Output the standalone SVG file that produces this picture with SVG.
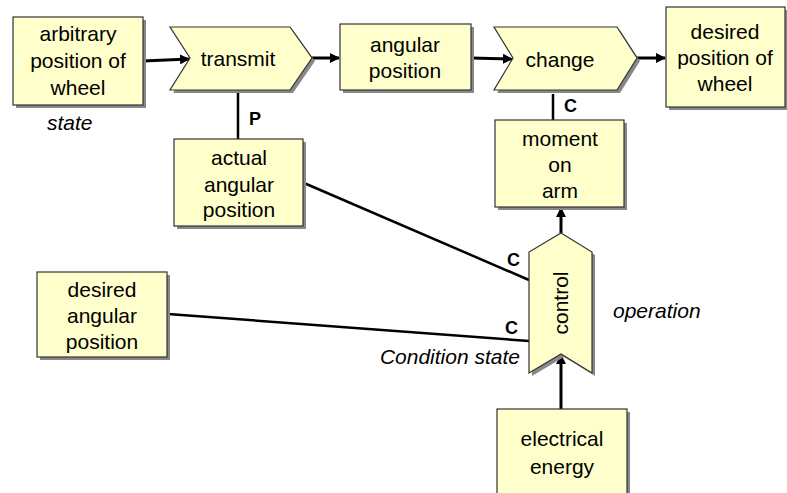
<svg xmlns="http://www.w3.org/2000/svg" width="787" height="493" viewBox="0 0 787 493">
<defs>
<style>
.shape{fill:#FFFFCC;stroke:#333;stroke-width:1.2}
.shadow{fill:#888;stroke:none}
.t{font-family:"Liberation Sans",Arial,sans-serif;font-size:21px;fill:#000;text-anchor:middle}
.it{font-family:"Liberation Sans",Arial,sans-serif;font-size:21px;font-style:italic;fill:#000}
.lbl{font-family:"Liberation Sans",Arial,sans-serif;font-size:18px;font-weight:bold;fill:#000}
.conn{stroke:#000;stroke-width:3;fill:none}
.thin{stroke:#000;stroke-width:2.5;fill:none}
</style>
<marker id="ah" markerWidth="10" markerHeight="10" refX="9" refY="5" orient="auto" markerUnits="userSpaceOnUse">
<path d="M0,0 L10,5 L0,10 z" fill="#000"/>
</marker>
</defs>

<g id="connectors">
<line class="conn" x1="143" y1="61" x2="189" y2="59" marker-end="url(#ah)"/>
<line class="conn" x1="312" y1="58" x2="339" y2="58" marker-end="url(#ah)"/>
<line class="conn" x1="471" y1="58" x2="512" y2="59" marker-end="url(#ah)"/>
<line class="conn" x1="637" y1="58" x2="665" y2="58" marker-end="url(#ah)"/>
<line class="thin" x1="238" y1="92" x2="238" y2="139"/>
<line class="thin" x1="553" y1="94" x2="553" y2="120"/>
<line class="conn" x1="561" y1="233" x2="561" y2="208" marker-end="url(#ah)"/>
<line class="conn" x1="561" y1="409" x2="561" y2="355" marker-end="url(#ah)"/>
<line class="thin" x1="304" y1="183" x2="529" y2="280"/>
<line class="thin" x1="168" y1="314" x2="529" y2="341"/>
<text class="lbl" x="249" y="125">P</text>
<text class="lbl" x="564" y="112">C</text>
<text class="lbl" x="507" y="266">C</text>
<text class="lbl" x="505" y="334">C</text>
</g>

<g id="arbitrary-position">
<rect class="shadow" x="16" y="20" width="130" height="88"/>
<rect class="shape" x="13" y="17" width="130" height="88"/>
<text class="t" x="78" y="41">arbitrary</text>
<text class="t" x="78" y="68">position of</text>
<text class="t" x="78" y="95">wheel</text>
</g>
<text class="it" x="47" y="130">state</text>

<g id="transmit">
<polygon class="shadow" points="173,30 293,30 315,61 293,93 173,93 193,61"/>
<polygon class="shape" points="170,27 290,27 312,58 290,90 170,90 190,58"/>
<text class="t" x="238" y="66">transmit</text>
</g>

<g id="angular-position">
<rect class="shadow" x="343" y="27" width="131" height="66"/>
<rect class="shape" x="340" y="24" width="131" height="66"/>
<text class="t" x="405" y="52">angular</text>
<text class="t" x="405" y="78">position</text>
</g>

<g id="change">
<polygon class="shadow" points="497,30 620,30 640,61 620,93 497,93 516,61"/>
<polygon class="shape" points="494,27 617,27 637,58 617,90 494,90 513,58"/>
<text class="t" x="560" y="67">change</text>
</g>

<g id="desired-position">
<rect class="shadow" x="669" y="10" width="120" height="100"/>
<rect class="shape" x="666" y="7" width="119" height="100"/>
<text class="t" x="725" y="39">desired</text>
<text class="t" x="725" y="65">position of</text>
<text class="t" x="725" y="91">wheel</text>
</g>

<g id="actual-angular-position">
<rect class="shadow" x="177" y="142" width="129" height="87"/>
<rect class="shape" x="174" y="139" width="129" height="87"/>
<text class="t" x="239" y="165">actual</text>
<text class="t" x="239" y="192">angular</text>
<text class="t" x="239" y="217">position</text>
</g>

<g id="moment-on-arm">
<rect class="shadow" x="498" y="123" width="129" height="87"/>
<rect class="shape" x="495" y="120" width="129" height="87"/>
<text class="t" x="560" y="146">moment</text>
<text class="t" x="560" y="172">on</text>
<text class="t" x="560" y="198">arm</text>
</g>

<g id="desired-angular-position">
<rect class="shadow" x="40" y="275" width="130" height="85"/>
<rect class="shape" x="37" y="272" width="130" height="85"/>
<text class="t" x="102" y="297">desired</text>
<text class="t" x="102" y="323">angular</text>
<text class="t" x="102" y="349">position</text>
</g>

<g id="control">
<polygon class="shadow" points="564,236 595,255 595,376 564,357 532,376 532,255"/>
<polygon class="shape" points="561,233 592,252 592,373 561,354 529,373 529,252"/>
<text class="t" transform="translate(568,303) rotate(-90)" x="0" y="0">control</text>
</g>
<text class="it" x="613" y="318">operation</text>
<text class="it" x="520" y="364" text-anchor="end">Condition state</text>

<g id="electrical-energy">
<rect class="shadow" x="500" y="412" width="130" height="90"/>
<rect class="shape" x="497" y="409" width="130" height="90"/>
<text class="t" x="562" y="446">electrical</text>
<text class="t" x="562" y="474">energy</text>
</g>
</svg>
